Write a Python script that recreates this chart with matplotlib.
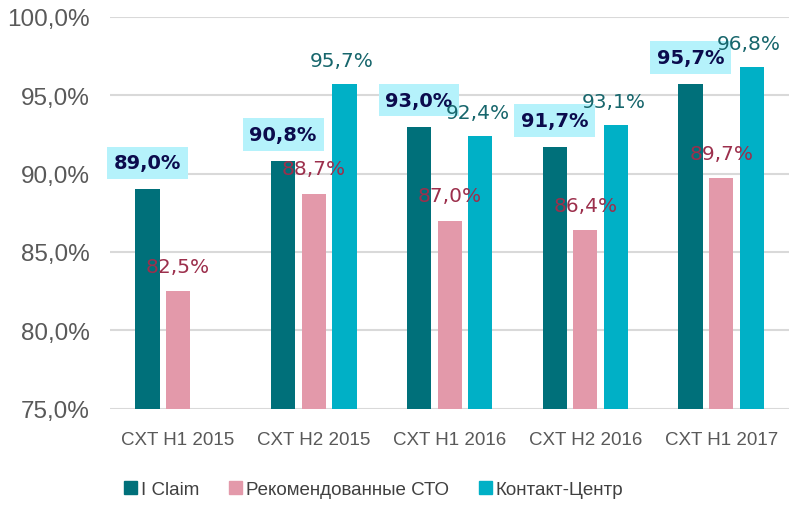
import numpy as np
import matplotlib.pyplot as plt
from matplotlib.patches import Patch

categories = ['CXT H1 2015', 'CXT H2 2015', 'CXT H1 2016', 'CXT H2 2016', 'CXT H1 2017']
iclaim = [89.0, 90.8, 93.0, 91.7, 95.7]
sto = [82.5, 88.7, 87.0, 86.4, 89.7]
contact = [np.nan, 95.7, 92.4, 93.1, 96.8]
series_names = ['I Claim', 'Рекомендованные СТО', 'Контакт-Центр']

c_iclaim = '#00707a'
c_sto = '#e399aa'
c_contact = '#00b0c6'


def fmt(v):
    return f'{v:.1f}%'.replace('.', ',')


plt.switch_backend('Agg')
fig = plt.figure(figsize=(7.93, 5.06), dpi=100)
ax = fig.add_axes([0.139, 0.19, 0.856, 0.775])

x = np.arange(len(categories))
w = 0.178
step = 0.226

ax.bar(x - step, [v - 75 for v in iclaim], w, bottom=75, color=c_iclaim, zorder=2)
ax.bar(x, [v - 75 for v in sto], w, bottom=75, color=c_sto, zorder=2)
ax.bar(x + step, [v - 75 for v in contact], w, bottom=75, color=c_contact, zorder=2)

# data labels
for i, v in enumerate(iclaim):
    ax.annotate(fmt(v), (x[i] - step, v), xytext=(0, 19), textcoords='offset points',
                ha='center', va='center', fontsize=14, fontweight='bold', color='#0b0b4d',
                family='DejaVu Sans', zorder=4,
                bbox=dict(boxstyle='square,pad=0.35', fc='#b5f2fb', ec='none'))
for i, v in enumerate(sto):
    ax.annotate(fmt(v), (x[i], v), xytext=(0, 18), textcoords='offset points',
                ha='center', va='center', fontsize=14.5, color='#9c2f4c',
                family='DejaVu Sans', zorder=5)
for i, v in enumerate(contact):
    if np.isnan(v):
        continue
    ax.annotate(fmt(v), (x[i] + step, v), xytext=(-2, 17), textcoords='offset points',
                ha='center', va='center', fontsize=14.5, color='#17666c',
                family='DejaVu Sans', zorder=5)

ax.set_ylim(75, 100)
ax.set_xlim(-0.5, 4.5)
ticks = [75, 80, 85, 90, 95, 100]
ax.set_yticks(ticks)
ax.set_yticklabels([fmt(t) for t in ticks], fontsize=17.5, color='#595959',
                   family='Liberation Sans')
ax.set_xticks(x)
ax.set_xticklabels(categories, fontsize=13.5, color='#595959', family='Liberation Sans')
ax.tick_params(length=0)
ax.tick_params(axis='x', pad=16)
ax.tick_params(axis='y', pad=15)
ax.yaxis.grid(True, color='#d9d9d9', lw=1.5, zorder=0)
ax.set_axisbelow(True)
for s in ax.spines.values():
    s.set_visible(False)

handles = [Patch(color=c_iclaim), Patch(color=c_sto), Patch(color=c_contact)]
leg = fig.legend(handles, series_names, loc='lower left', bbox_to_anchor=(0.135, -0.02),
                 ncol=3, frameon=False, handlelength=0.7, handleheight=0.7,
                 handletextpad=0.2, columnspacing=1.6,
                 prop={'family': 'Liberation Sans', 'size': 13.5})
for t in leg.get_texts():
    t.set_color('#404040')

fig.savefig('out.png', dpi=100)
